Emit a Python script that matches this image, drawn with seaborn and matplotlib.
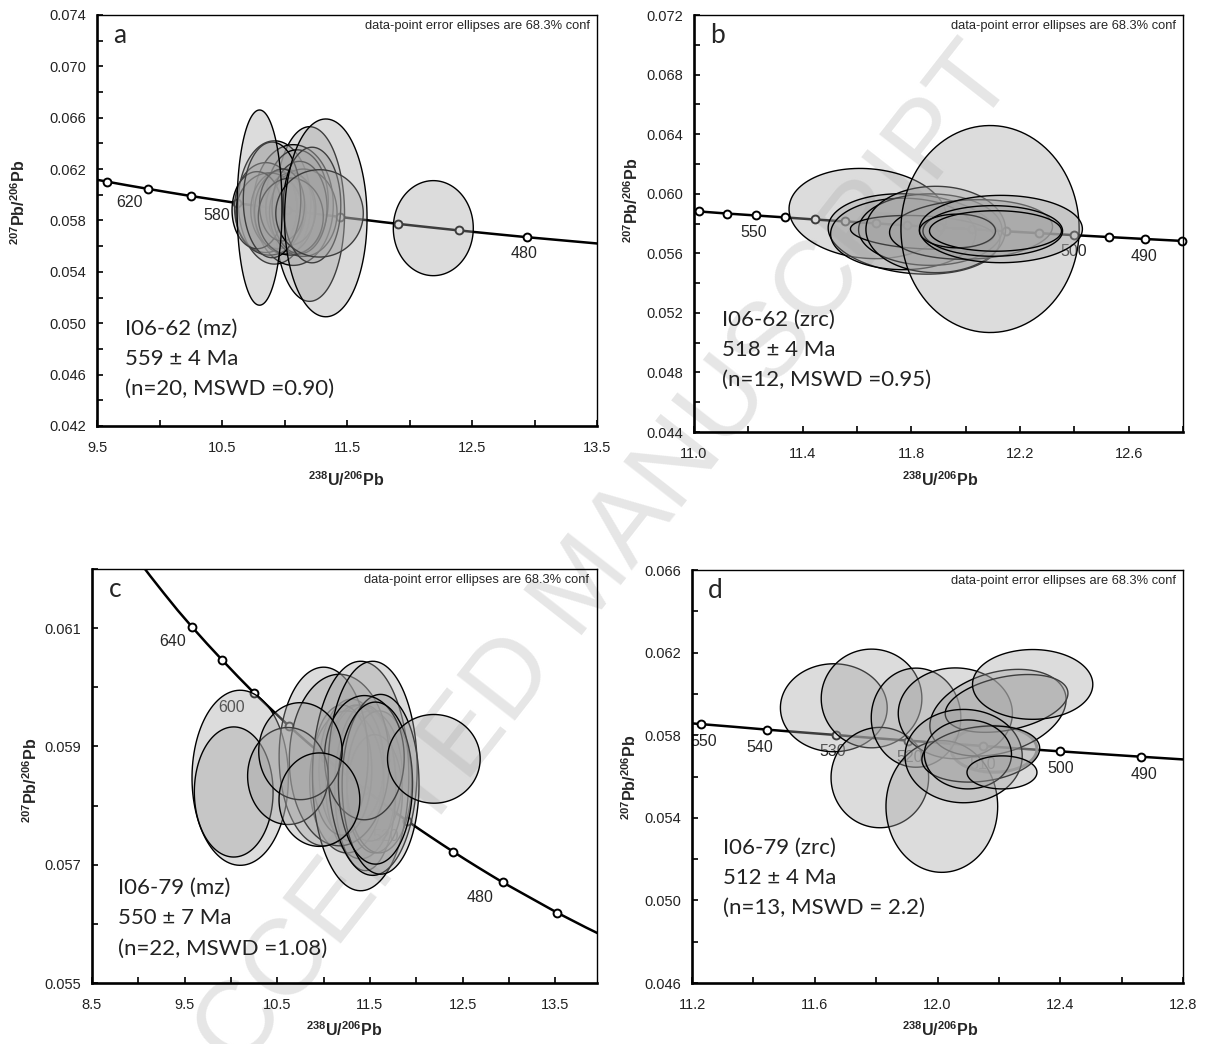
import numpy as np
import matplotlib
matplotlib.use("Agg")
import matplotlib.pyplot as plt
import pandas as pd
import seaborn as sns

# Tera-Wasserburg concordia, points (age in Ma)
conc_age = [680, 670, 660, 650, 640, 630, 620, 610, 600, 590, 580, 570, 560, 555, 550,
            545, 540, 535, 530, 525, 520, 515, 510, 505, 500, 495, 490, 485, 480, 470,
            460, 450, 440]
conc_x = [8.989, 9.130, 9.276, 9.426, 9.580, 9.740, 9.906, 10.076, 10.252, 10.434, 10.622,
          10.817, 11.019, 11.122, 11.228, 11.335, 11.445, 11.556, 11.670, 11.786, 11.904,
          12.024, 12.147, 12.272, 12.399, 12.529, 12.662, 12.798, 12.936, 13.222, 13.520,
          13.831, 14.157]
conc_y = [0.06217, 0.06188, 0.06159, 0.06130, 0.06102, 0.06074, 0.06046, 0.06018, 0.05990,
          0.05963, 0.05935, 0.05908, 0.05881, 0.05867, 0.05854, 0.05841, 0.05827, 0.05814,
          0.05801, 0.05787, 0.05774, 0.05761, 0.05748, 0.05735, 0.05722, 0.05709, 0.05696,
          0.05683, 0.05670, 0.05645, 0.05619, 0.05594, 0.05569]

# --- panel a: I06-62 monazite
a_marks = [640, 620, 600, 580, 560, 540, 520, 500, 480]
a_labels = [("620", 9.763, 0.05937), ("580", 10.46, 0.05842), ("480", 12.915, 0.0554)]
a_x = [11.20, 10.92, 11.07, 11.10, 10.85, 10.95, 11.00, 11.05, 10.88, 11.15, 10.78, 11.12,
       10.98, 11.05, 10.90, 11.22, 11.28, 10.80, 11.33, 12.19]
a_y = [0.0585, 0.0594, 0.0592, 0.0595, 0.0590, 0.0588, 0.0587, 0.0589, 0.0585, 0.0586,
       0.0588, 0.0590, 0.0592, 0.0583, 0.0596, 0.0592, 0.05855, 0.0590, 0.0582, 0.0574]
a_sx = [0.28, 0.29, 0.32, 0.25, 0.25, 0.22, 0.24, 0.20, 0.27, 0.27, 0.20, 0.22, 0.18, 0.26,
        0.23, 0.23, 0.35, 0.18, 0.33, 0.32]
a_sy = [0.0068, 0.0048, 0.0047, 0.0040, 0.0035, 0.0030, 0.0033, 0.0028, 0.0032, 0.0034,
        0.0030, 0.0036, 0.0028, 0.0030, 0.0045, 0.0045, 0.0034, 0.0076, 0.0077, 0.0037]
a_rho = [0.0] * 20

# --- panel b: I06-62 zircon
b_marks = [560, 555, 550, 545, 540, 535, 530, 525, 520, 515, 510, 505, 500, 495, 490, 485]
b_labels = [("550", 11.22, 0.05741), ("500", 12.397, 0.0561), ("490", 12.657, 0.05578)]
b_x = [11.64, 11.81, 11.77, 11.87, 11.84, 11.89, 12.02, 12.09, 12.13, 12.10, 11.97, 12.11]
b_y = [0.05867, 0.0573, 0.0573, 0.05759, 0.05741, 0.0576, 0.0576, 0.05763, 0.05763, 0.0575,
       0.0575, 0.0575]
b_sx = [0.29, 0.316, 0.267, 0.264, 0.264, 0.257, 0.30, 0.328, 0.30, 0.257, 0.14, 0.243]
b_sy = [0.00303, 0.0027, 0.0024, 0.0024, 0.00113, 0.0029, 0.0020, 0.00695, 0.00226, 0.0017,
        0.00113, 0.00136]
b_rho = [-0.1, -0.15, 0.0, 0.0, -0.2, 0.0, 0.1, 0.0, 0.0, 0.0, 0.0, 0.0]

# --- panel c: I06-79 monazite
c_marks = [640, 620, 600, 580, 560, 540, 520, 500, 480, 460]
c_labels = [("640", 9.372, 0.06078), ("600", 10.01, 0.05966), ("520", 11.67, 0.05748),
            ("480", 12.69, 0.05645)]
c_x = [11.30, 11.40, 11.50, 11.35, 11.25, 11.45, 11.55, 11.20, 11.60,
       10.10, 10.03, 11.00, 11.17, 11.40, 11.53, 11.615, 11.44, 11.56, 10.615, 10.75, 10.955,
       12.19]
c_y = [0.0586, 0.0584, 0.0585, 0.0587, 0.0584, 0.0583, 0.0582, 0.0586, 0.0584,
       0.05847, 0.05823, 0.05883, 0.05877, 0.0585, 0.05863, 0.05836, 0.05881, 0.05838,
       0.0585, 0.05892, 0.0581, 0.05879]
c_sx = [0.35, 0.38, 0.35, 0.30, 0.40, 0.33, 0.30, 0.32, 0.35,
        0.52, 0.425, 0.48, 0.54, 0.52, 0.48, 0.415, 0.43, 0.40, 0.435, 0.45, 0.436, 0.50]
c_sy = [0.0012, 0.0013, 0.0011, 0.0010, 0.0012, 0.0014, 0.0010, 0.0011, 0.0012,
        0.00148, 0.0011, 0.00151, 0.00145, 0.00194, 0.00181, 0.00152, 0.00105, 0.00137,
        0.00082, 0.00082, 0.00079, 0.00075]
c_rho = [0.0] * 22

# --- panel d: I06-79 zircon
d_marks = [550, 540, 530, 520, 510, 500, 490]
d_labels = [("550", 11.238, 0.05768), ("540", 11.42, 0.0574), ("530", 11.657, 0.0572),
            ("520", 11.91, 0.0569), ("510", 12.146, 0.0566), ("500", 12.40, 0.0564),
            ("490", 12.673, 0.05612)]
d_mean = (12.184, 0.05733, 0.14, 0.00112)
d_x = [11.662, 11.785, 11.812, 11.93, 12.058, 12.014, 12.197, 12.225, 12.31, 12.085, 12.141,
       12.099, 12.21]
d_y = [0.05933, 0.05978, 0.05595, 0.05885, 0.05906, 0.05455, 0.05909, 0.05954, 0.06046,
       0.05699, 0.05709, 0.05707, 0.0562]
d_sx = [0.174, 0.164, 0.159, 0.146, 0.186, 0.182, 0.222, 0.20, 0.196, 0.191, 0.192, 0.142,
        0.114]
d_sy = [0.00213, 0.00239, 0.00243, 0.0024, 0.0022, 0.00319, 0.0021, 0.0014, 0.00169, 0.00226,
        0.00136, 0.00167, 0.0008]
d_rho = [0, 0, 0, 0, 0, 0, 0.3, 0.35, 0, 0, 0.2, 0, 0]

panels = [
    dict(letter="a", rect=[0.0800, 0.5920, 0.4122, 0.3937], xlim=(9.5, 13.5),
         ylim=(0.042, 0.074), xmaj=[9.5, 10.5, 11.5, 12.5, 13.5], xstep=0.5,
         ymaj=[0.042, 0.046, 0.050, 0.054, 0.058, 0.062, 0.066, 0.070, 0.074], ystep=0.002,
         marks=a_marks, labels=a_labels, ell=(a_x, a_y, a_sx, a_sy, a_rho), mean=None,
         text=["I06-62 (mz)", "559 ± 4 Ma", "(n=20, MSWD =0.90)"], tx=0.056, ty=0.236,
         ylab=(-0.156, 0.544), xlab=(0.498, -0.131)),
    dict(letter="b", rect=[0.5721, 0.5862, 0.4031, 0.3994], xlim=(11.0, 12.8),
         ylim=(0.044, 0.072), xmaj=[11.0, 11.4, 11.8, 12.2, 12.6], xstep=0.2,
         ymaj=[0.044, 0.048, 0.052, 0.056, 0.060, 0.064, 0.068, 0.072], ystep=0.002,
         marks=b_marks, labels=b_labels, ell=(b_x, b_y, b_sx, b_sy, b_rho), mean=None,
         text=["I06-62 (zrc)", "518 ± 4 Ma", "(n=12, MSWD =0.95)"], tx=0.057, ty=0.27,
         ylab=(-0.127, 0.556), xlab=(0.503, -0.115)),
    dict(letter="c", rect=[0.0758, 0.0584, 0.4163, 0.3966], xlim=(8.5, 13.95),
         ylim=(0.055, 0.062), xmaj=[8.5, 9.5, 10.5, 11.5, 12.5, 13.5], xstep=0.5,
         ymaj=[0.055, 0.057, 0.059, 0.061], ystep=0.001,
         marks=c_marks, labels=c_labels, ell=(c_x, c_y, c_sx, c_sy, c_rho), mean=None,
         text=["I06-79 (mz)", "550 ± 7 Ma", "(n=22, MSWD =1.08)"], tx=0.052, ty=0.229,
         ylab=(-0.121, 0.49), xlab=(0.50, -0.113)),
    dict(letter="d", rect=[0.5705, 0.0584, 0.4048, 0.3956], xlim=(11.2, 12.8),
         ylim=(0.046, 0.066), xmaj=[11.2, 11.6, 12.0, 12.4, 12.8], xstep=0.2,
         ymaj=[0.046, 0.050, 0.054, 0.058, 0.062, 0.066], ystep=0.002,
         marks=d_marks, labels=d_labels, ell=(d_x, d_y, d_sx, d_sy, d_rho), mean=d_mean,
         text=["I06-79 (zrc)", "512 ± 4 Ma", "(n=13, MSWD = 2.2)"], tx=0.064, ty=0.327,
         ylab=(-0.126, 0.499), xlab=(0.505, -0.114)),
]

sns.set_theme(style="ticks")
plt.rcParams["font.family"] = ["Liberation Sans", "DejaVu Sans"]
plt.rcParams["mathtext.fontset"] = "custom"
plt.rcParams["mathtext.rm"] = "Liberation Sans"
plt.rcParams["mathtext.bf"] = "Liberation Sans:bold"

conc = pd.DataFrame({"age": conc_age, "x": conc_x, "y": conc_y})
FILL = (0.64, 0.64, 0.64, 0.38)


def draw_ellipse(ax, cx, cy, sx, sy, rho, z, edge="black", lw=1.0):
    t = np.linspace(0, 2 * np.pi, 120)
    ex = cx + sx * np.cos(t)
    ey = cy + sy * (rho * np.cos(t) + np.sqrt(1 - rho ** 2) * np.sin(t))
    ax.fill(ex, ey, facecolor=FILL, edgecolor=edge, linewidth=lw, zorder=z)


fig = plt.figure(figsize=(12.13, 10.44), dpi=100)
# faint diagonal watermark behind the panels
fig.text(0.482, 0.438, "ACCEPTED MANUSCRIPT", rotation=52, fontsize=78,
         family=["Liberation Sans", "DejaVu Sans"], color="#e6e6e6",
         ha="center", va="center", zorder=-5)

for p in panels:
    ax = fig.add_axes(p["rect"])
    ax.set_facecolor("none")

    sns.lineplot(data=conc, x="x", y="y", sort=False, estimator=None, color="black",
                 linewidth=1.8, ax=ax, zorder=1)
    mk = conc[conc["age"].isin(p["marks"])]
    sns.scatterplot(data=mk, x="x", y="y", ax=ax, marker="o", s=32, color="white",
                    edgecolor="black", linewidth=1.4, zorder=2, clip_on=False)
    for lab, lx, ly in p["labels"]:
        ax.text(lx, ly, lab, fontsize=11.5, ha="center", va="center", zorder=2)

    if p["mean"] is not None:
        mx, my, msx, msy = p["mean"]
        draw_ellipse(ax, mx, my, msx, msy, 0.0, 3, edge="#8a8a8a", lw=2.2)
    ex, ey, esx, esy, erho = p["ell"]
    for i in range(len(ex)):
        draw_ellipse(ax, ex[i], ey[i], esx[i], esy[i], erho[i], 4 + i * 0.01)

    ax.set_xlim(*p["xlim"])
    ax.set_ylim(*p["ylim"])
    ax.set_xticks(p["xmaj"])
    ax.set_xticks(np.arange(p["xlim"][0], p["xlim"][1] + 1e-9, p["xstep"]), minor=True)
    ax.set_yticks(p["ymaj"])
    ax.set_yticks(np.arange(p["ylim"][0], p["ylim"][1] + 1e-9, p["ystep"]), minor=True)
    ax.set_xticklabels([f"{v:.1f}" for v in p["xmaj"]])
    ax.set_yticklabels([f"{v:.3f}" for v in p["ymaj"]])
    ax.tick_params(which="both", direction="in", length=4, width=1.2, color="black",
                   labelsize=10.5, labelcolor="#222222")
    ax.tick_params(axis="x", pad=11)
    ax.tick_params(axis="y", pad=8)
    for side in ["left", "bottom"]:
        ax.spines[side].set_linewidth(1.9)
        ax.spines[side].set_color("black")
    for side in ["top", "right"]:
        ax.spines[side].set_linewidth(1.0)
        ax.spines[side].set_color("black")
        ax.spines[side].set_visible(True)

    ax.set_xlabel(r"$\mathbf{{}^{238}U/{}^{206}Pb}$", fontsize=11.5)
    ax.set_ylabel(r"$\mathbf{{}^{207}Pb/{}^{206}Pb}$", fontsize=11.5)
    ax.xaxis.set_label_coords(*p["xlab"])
    ax.xaxis.label.set_va("center")
    ax.yaxis.set_label_coords(*p["ylab"])
    ax.yaxis.label.set_va("center")

    ax.text(0.033, 0.95, p["letter"], transform=ax.transAxes, fontsize=19,
            family=["Lato", "DejaVu Sans"], ha="left", va="center", zorder=6)
    ax.text(0.985, 0.973, "data-point error ellipses are 68.3% conf", transform=ax.transAxes,
            fontsize=9.3, ha="right", va="center", zorder=6)
    for k, line in enumerate(p["text"]):
        ax.text(p["tx"], p["ty"] - k * 0.073, line, transform=ax.transAxes, fontsize=16,
                family=["Lato", "DejaVu Sans"], color="#222222", ha="left", va="center",
                zorder=6)

fig.savefig("out.png", dpi=100)
